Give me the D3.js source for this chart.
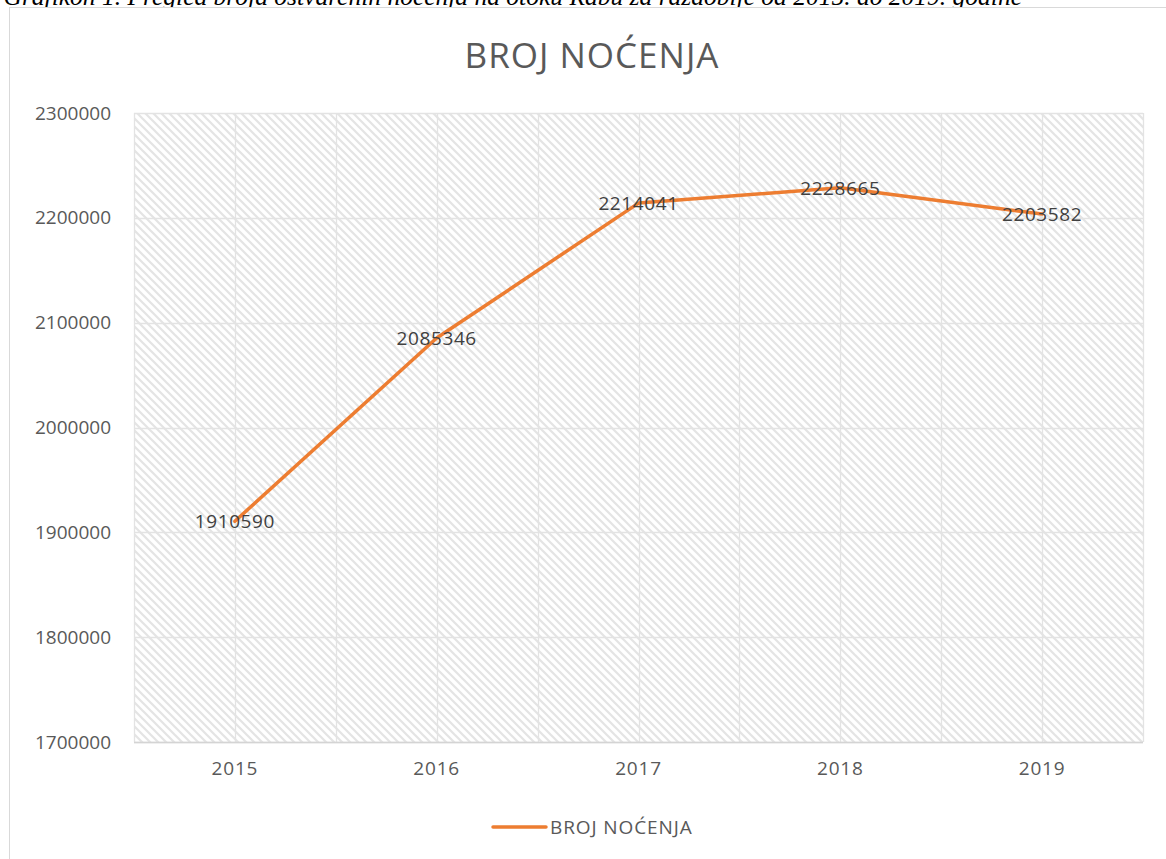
<!DOCTYPE html>
<html><head><meta charset="utf-8">
<script src="https://cdn.jsdelivr.net/npm/d3@7"></script>
<style>html,body{margin:0;padding:0;background:#fff;overflow:hidden}</style>
</head><body>
<script>
const categories = ["2015","2016","2017","2018","2019"];
const values = [1910590, 2085346, 2214041, 2228665, 2203582];
const yTicks = [1700000,1800000,1900000,2000000,2100000,2200000,2300000];
const seriesName = "BROJ NOĆENJA";
const chartTitle = "BROJ NOĆENJA";
const caption = "Grafikon 1. Pregled broja ostvarenih noćenja na otoku Rabu za razdoblje od 2015. do 2019. godine";

const W = 1166, H = 859;
const svg = d3.select("body").append("svg").attr("width", W).attr("height", H);
const font = "'Open Sans', sans-serif";

// caption (partly cut off at top, as in the reference)
svg.append("text").attr("x", 1022).attr("y", 5).attr("text-anchor","end")
  .attr("font-family","'Liberation Serif', serif").attr("font-style","italic")
  .attr("font-size", 25.5).attr("fill","#000").text(caption);

// chart area border
svg.append("rect").attr("x", 9.5).attr("y", 7.5).attr("width", 1200).attr("height", 900)
  .attr("fill","#fff").attr("stroke","#d9d9d9").attr("stroke-width",1);

const plot = {l:134, r:1143, t:113, b:742};
const x = d3.scaleBand().domain(categories).range([plot.l, plot.r]).padding(0);
const y = d3.scaleLinear().domain([1700000, 2300000]).range([plot.b, plot.t]);

// hatch pattern
const defs = svg.append("defs");
const pat = defs.append("pattern").attr("id","hatch").attr("patternUnits","userSpaceOnUse")
  .attr("width",8).attr("height",8);
pat.append("rect").attr("width",8).attr("height",8).attr("fill","#fff");
pat.append("path").attr("d","M0,0 L8,8 M-1,7 L1,9 M7,-1 L9,1")
  .attr("stroke","#e4e4e4").attr("stroke-width",2.2);

svg.append("rect").attr("x",plot.l).attr("y",plot.t).attr("width",plot.r-plot.l).attr("height",plot.b-plot.t)
  .attr("fill","url(#hatch)");

// horizontal gridlines
svg.append("g").selectAll("line").data(yTicks).join("line")
  .attr("x1",plot.l).attr("x2",plot.r)
  .attr("y1",d=>Math.round(y(d))+0.5).attr("y2",d=>Math.round(y(d))+0.5)
  .attr("stroke","#e3e3e3").attr("stroke-width",1.3);

// vertical gridlines at band edges and centers
const vx = [];
categories.forEach(c => { vx.push(x(c)); vx.push(x(c)+x.bandwidth()/2); });
vx.push(plot.r);
svg.append("g").selectAll("line").data(vx).join("line")
  .attr("x1",d=>Math.round(d)+0.5).attr("x2",d=>Math.round(d)+0.5)
  .attr("y1",plot.t).attr("y2",plot.b)
  .attr("stroke","#e3e3e3").attr("stroke-width",1.3);

// bottom axis line
svg.append("line").attr("x1",plot.l).attr("x2",plot.r).attr("y1",plot.b+0.5).attr("y2",plot.b+0.5)
  .attr("stroke","#d4d4d4").attr("stroke-width",1.5);

// y axis labels
const yAxis = d3.axisLeft(y).tickValues(yTicks).tickSize(0).tickPadding(23).tickFormat(d3.format("d"));
const ya = svg.append("g").attr("transform",`translate(${plot.l},0)`).call(yAxis);
ya.select(".domain").remove();
ya.selectAll("text").attr("font-family",font).attr("font-size",19).attr("fill","#595959")
  .attr("letter-spacing","0px");

// x axis labels
const xAxis = d3.axisBottom(x).tickSize(0).tickPadding(20);
const xa = svg.append("g").attr("transform",`translate(0,${plot.b})`).call(xAxis);
xa.select(".domain").remove();
xa.selectAll("text").attr("font-family",font).attr("font-size",19).attr("fill","#595959")
  .attr("letter-spacing","0.8px");

// line
const line = d3.line().x((d,i)=>x(categories[i])+x.bandwidth()/2).y(d=>y(d));
svg.append("path").datum(values).attr("d",line).attr("fill","none")
  .attr("stroke","#ED7D31").attr("stroke-width",3.5).attr("stroke-linejoin","round").attr("stroke-linecap","round");

// data labels
svg.append("g").selectAll("text").data(values).join("text")
  .attr("x",(d,i)=>x(categories[i])+x.bandwidth()/2)
  .attr("y",d=>y(d)).attr("dy","0.36em").attr("text-anchor","middle")
  .attr("font-family",font).attr("font-size",19).attr("fill","#404040")
  .attr("letter-spacing","0.6px").text(d=>d);

// title
svg.append("text").attr("x",592).attr("y",68).attr("text-anchor","middle")
  .attr("font-family",font).attr("font-size",35).attr("fill","#595959")
  .attr("letter-spacing","1px").text(chartTitle);

// legend
svg.append("line").attr("x1",493).attr("x2",546).attr("y1",827).attr("y2",827)
  .attr("stroke","#ED7D31").attr("stroke-width",3.5).attr("stroke-linecap","round");
svg.append("text").attr("x",550).attr("y",827).attr("dy","0.36em")
  .attr("font-family",font).attr("font-size",19).attr("fill","#595959")
  .attr("letter-spacing","0.9px").text(seriesName);
</script>
</body></html>
